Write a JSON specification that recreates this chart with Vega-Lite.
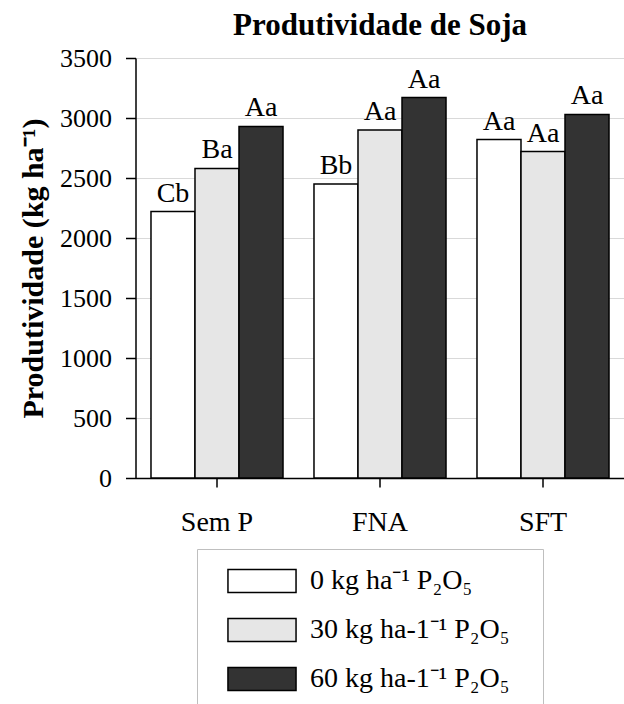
{
  "$schema": "https://vega.github.io/schema/vega-lite/v6.json",
  "autosize": {"type": "none"},
  "padding": {"left": 135.5, "top": 58, "right": 0, "bottom": 226},
  "width": 489,
  "height": 420,
  "background": "white",
  "config": {
    "font": "Liberation Serif",
    "view": {"stroke": null},
    "axis": {"labelFont": "Liberation Serif", "titleFont": "Liberation Serif", "labelColor": "black", "titleColor": "black", "domainColor": "black", "tickColor": "black", "gridColor": "#d9d9d9", "gridWidth": 1},
    "legend": {"labelFont": "Liberation Serif"},
    "text": {"font": "Liberation Serif"}
  },
  "title": {
    "text": "Produtividade de Soja",
    "font": "Liberation Serif",
    "fontSize": 31,
    "fontWeight": "bold",
    "color": "black",
    "anchor": "middle",
    "frame": "group",
    "baseline": "alphabetic",
    "offset": -21
  },
  "data": {
    "values": [
      {"tratamento": "Sem P", "dose": "0 kg ha⁻¹ P₂O₅", "produtividade": 2220, "letra": "Cb"},
      {"tratamento": "Sem P", "dose": "30 kg ha-1⁻¹ P₂O₅", "produtividade": 2580, "letra": "Ba"},
      {"tratamento": "Sem P", "dose": "60 kg ha-1⁻¹ P₂O₅", "produtividade": 2930, "letra": "Aa"},
      {"tratamento": "FNA", "dose": "0 kg ha⁻¹ P₂O₅", "produtividade": 2450, "letra": "Bb"},
      {"tratamento": "FNA", "dose": "30 kg ha-1⁻¹ P₂O₅", "produtividade": 2900, "letra": "Aa"},
      {"tratamento": "FNA", "dose": "60 kg ha-1⁻¹ P₂O₅", "produtividade": 3170, "letra": "Aa"},
      {"tratamento": "SFT", "dose": "0 kg ha⁻¹ P₂O₅", "produtividade": 2820, "letra": "Aa"},
      {"tratamento": "SFT", "dose": "30 kg ha-1⁻¹ P₂O₅", "produtividade": 2720, "letra": "Aa"},
      {"tratamento": "SFT", "dose": "60 kg ha-1⁻¹ P₂O₅", "produtividade": 3030, "letra": "Aa"}
    ]
  },
  "encoding": {
    "x": {
      "field": "tratamento",
      "type": "nominal",
      "sort": ["Sem P", "FNA", "SFT"],
      "scale": {"paddingInner": 0.19, "paddingOuter": 0.095},
      "axis": {
        "title": null,
        "labelAngle": 0,
        "labelFontSize": 28,
        "labelFont": "Liberation Serif",
        "labelPadding": 21,
        "tickSize": 9,
        "tickWidth": 1.5,
        "domainWidth": 1.5,
        "grid": false
      }
    },
    "xOffset": {
      "field": "dose",
      "type": "nominal",
      "sort": ["0 kg ha⁻¹ P₂O₅", "30 kg ha-1⁻¹ P₂O₅", "60 kg ha-1⁻¹ P₂O₅"],
      "scale": {"paddingInner": 0, "paddingOuter": 0}
    },
    "y": {
      "field": "produtividade",
      "type": "quantitative",
      "scale": {"domain": [0, 3500], "nice": false},
      "axis": {
        "title": "Produtividade (kg ha⁻¹)",
        "titleFont": "Liberation Serif",
        "titleFontSize": 30,
        "titleFontWeight": "bold",
        "titlePadding": 11,
        "values": [0, 500, 1000, 1500, 2000, 2500, 3000, 3500],
        "format": "d",
        "labelFont": "Liberation Serif",
        "labelFontSize": 26,
        "labelPadding": 14,
        "tickSize": 10,
        "tickWidth": 1.5,
        "domainWidth": 1.5,
        "grid": true
      }
    }
  },
  "layer": [
    {
      "mark": {"type": "bar", "stroke": "black", "strokeWidth": 1.5, "opacity": 1},
      "encoding": {
        "color": {
          "field": "dose",
          "type": "nominal",
          "sort": ["0 kg ha⁻¹ P₂O₅", "30 kg ha-1⁻¹ P₂O₅", "60 kg ha-1⁻¹ P₂O₅"],
          "scale": {"range": ["#ffffff", "#e6e6e6", "#333333"]},
          "legend": {
            "title": "\u2800",
            "titleOrient": "right",
            "titleFontSize": 8,
            "titlePadding": 10,
            "orient": "none",
            "legendX": 61.5,
            "legendY": 491,
            "direction": "vertical",
            "padding": 18,
            "strokeColor": "#bfbfbf",
            "fillColor": "white",
            "labelFontSize": 28,
            "labelColor": "black",
            "labelFont": "Liberation Serif",
            "labelLimit": 0,
            "symbolType": "M-2.96,-1H2.96V1H-2.96Z",
            "symbolSize": 529,
            "symbolStrokeColor": "black",
            "symbolStrokeWidth": 1.5,
            "symbolOpacity": 1,
            "symbolOffset": 33,
            "labelOffset": 34,
            "rowPadding": 19
          }
        }
      }
    },
    {
      "mark": {"type": "text", "baseline": "alphabetic", "dy": -10, "fontSize": 28, "color": "black", "font": "Liberation Serif"},
      "encoding": {
        "text": {"field": "letra", "type": "nominal"}
      }
    }
  ]
}
